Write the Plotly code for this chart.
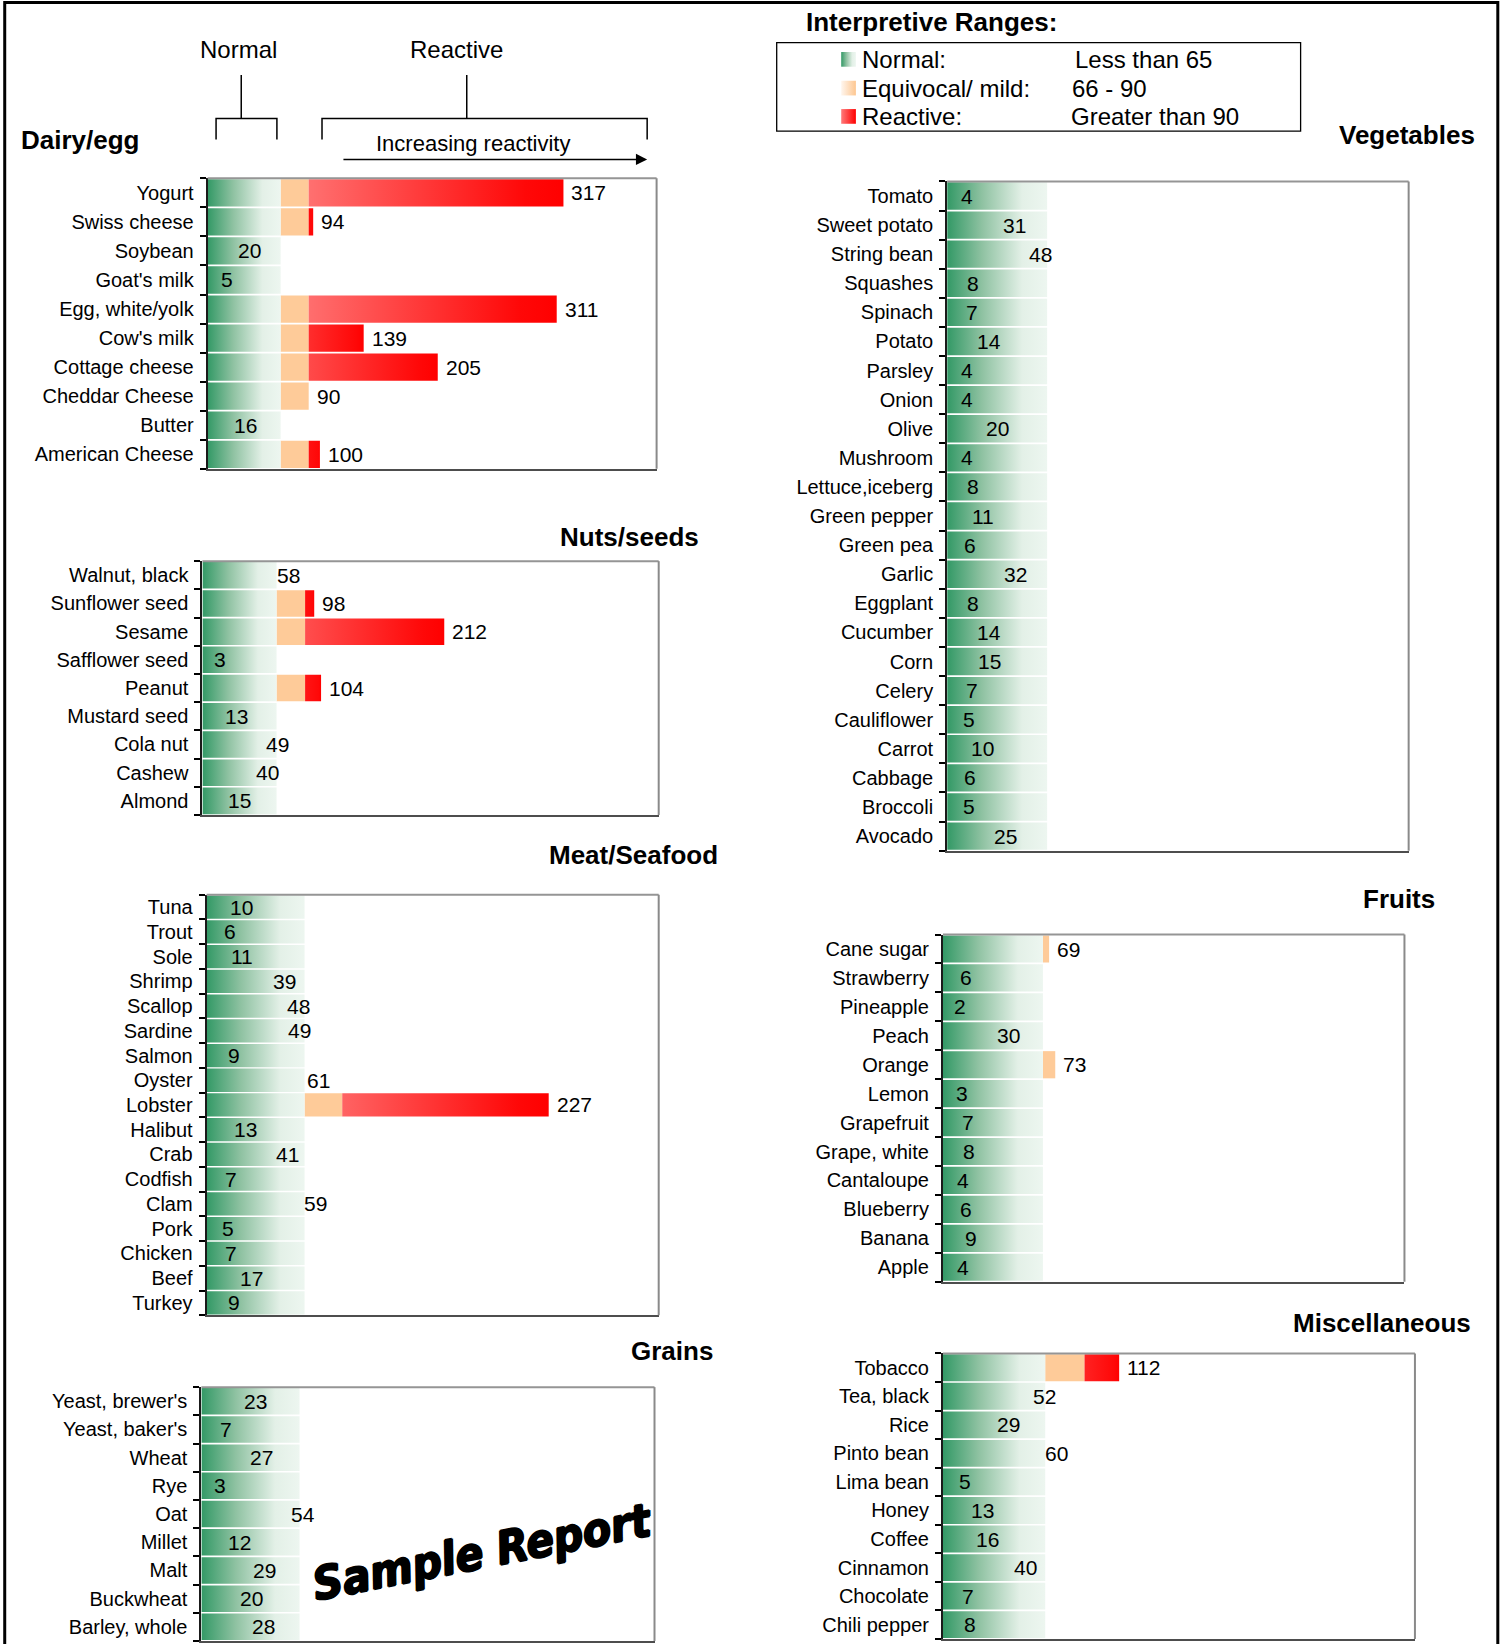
import plotly.graph_objects as go

# ---------------- data ----------------
NORMAL_MAX = 65
MILD_MAX = 90

dairy_foods = ["Yogurt", "Swiss cheese", "Soybean", "Goat's milk", "Egg, white/yolk",
               "Cow's milk", "Cottage cheese", "Cheddar Cheese", "Butter", "American Cheese"]
dairy_values = [317, 94, 20, 5, 311, 139, 205, 90, 16, 100]

nuts_foods = ["Walnut, black", "Sunflower seed", "Sesame", "Safflower seed", "Peanut",
              "Mustard seed", "Cola nut", "Cashew", "Almond"]
nuts_values = [58, 98, 212, 3, 104, 13, 49, 40, 15]

meat_foods = ["Tuna", "Trout", "Sole", "Shrimp", "Scallop", "Sardine", "Salmon", "Oyster",
              "Lobster", "Halibut", "Crab", "Codfish", "Clam", "Pork", "Chicken", "Beef", "Turkey"]
meat_values = [10, 6, 11, 39, 48, 49, 9, 61, 227, 13, 41, 7, 59, 5, 7, 17, 9]

grain_foods = ["Yeast, brewer's", "Yeast, baker's", "Wheat", "Rye", "Oat", "Millet", "Malt",
               "Buckwheat", "Barley, whole"]
grain_values = [23, 7, 27, 3, 54, 12, 29, 20, 28]

veg_foods = ["Tomato", "Sweet potato", "String bean", "Squashes", "Spinach", "Potato", "Parsley",
             "Onion", "Olive", "Mushroom", "Lettuce,iceberg", "Green pepper", "Green pea", "Garlic",
             "Eggplant", "Cucumber", "Corn", "Celery", "Cauliflower", "Carrot", "Cabbage",
             "Broccoli", "Avocado"]
veg_values = [4, 31, 48, 8, 7, 14, 4, 4, 20, 4, 8, 11, 6, 32, 8, 14, 15, 7, 5, 10, 6, 5, 25]

fruit_foods = ["Cane sugar", "Strawberry", "Pineapple", "Peach", "Orange", "Lemon", "Grapefruit",
               "Grape, white", "Cantaloupe", "Blueberry", "Banana", "Apple"]
fruit_values = [69, 6, 2, 30, 73, 3, 7, 8, 4, 6, 9, 4]

misc_foods = ["Tobacco", "Tea, black", "Rice", "Pinto bean", "Lima bean", "Honey", "Coffee",
              "Cinnamon", "Chocolate", "Chili pepper"]
misc_values = [112, 52, 29, 60, 5, 13, 16, 40, 7, 8]

legend_labels = ["Normal:", "Equivocal/ mild:", "Reactive:"]
legend_ranges = ["Less than 65", "66 - 90", "Greater than 90"]

# ---------------- layout (reference units) ----------------
PW, PH = 1432.0, 1567.4
FONT = "Liberation Sans, Arial, Helvetica, sans-serif"

panels = [
    dict(foods=dairy_foods, values=dairy_values, title="Dairy/egg", xmax=400,
         box=(198, 626, 170, 447), tpos=(18, 133), tanchor="left"),
    dict(foods=nuts_foods, values=nuts_values, title="Nuts/seeds", xmax=400,
         box=(193, 628, 535, 777), tpos=(668, 512), tanchor="right"),
    dict(foods=meat_foods, values=meat_values, title="Meat/Seafood", xmax=300,
         box=(197, 628, 853, 1254), tpos=(686, 815), tanchor="right"),
    dict(foods=grain_foods, values=grain_values, title="Grains", xmax=300,
         box=(192, 624, 1322.5, 1564.5), tpos=(682, 1288), tanchor="right"),
    dict(foods=veg_foods, values=veg_values, title="Vegetables", xmax=300,
         box=(903, 1343, 173, 811), tpos=(1408, 129), tanchor="right"),
    dict(foods=fruit_foods, values=fruit_values, title="Fruits", xmax=300,
         box=(899, 1339, 891, 1222), tpos=(1370, 857), tanchor="right"),
    dict(foods=misc_foods, values=misc_values, title="Miscellaneous", xmax=300,
         box=(899, 1349, 1290.4, 1562.6), tpos=(1404, 1261), tanchor="right"),
]

GREEN_SCALE = [[0, "#339966"], [0.35, "#8fc2a2"], [0.75, "#e3f0e7"], [1, "#edf6f0"]]
PEACH = "#fecb99"
HALF = 0.47


def px(x):
    return x / PW


def py(y):
    return 1 - y / PH


fig = go.Figure()
layout = dict(width=1502, height=1644, margin=dict(l=0, r=0, t=0, b=0),
              paper_bgcolor="white", plot_bgcolor="rgba(0,0,0,0)", showlegend=False,
              font=dict(family=FONT, color="black"))
annotations = []
shapes = []

for i, p in enumerate(panels, start=1):
    sx = "" if i == 1 else str(i)
    xr, yr = "x" + sx, "y" + sx
    foods, vals = p["foods"], p["values"]
    n = len(foods)
    x0, x1, y0, y1 = p["box"]
    pxper = (x1 - x0) / p["xmax"]

    # normal band with gradient
    gx, gy = [], []
    for k in range(n):
        gx += [0, NORMAL_MAX, NORMAL_MAX, 0, 0, None]
        gy += [k - HALF, k - HALF, k + HALF, k + HALF, k - HALF, None]
    fig.add_trace(go.Scatter(x=gx, y=gy, mode="lines", fill="toself", line=dict(width=0),
                             fillgradient=dict(type="horizontal", colorscale=GREEN_SCALE,
                                               start=0, stop=NORMAL_MAX),
                             hoverinfo="skip", xaxis=xr, yaxis=yr))
    # equivocal segments
    my = [k for k, v in enumerate(vals) if v > NORMAL_MAX]
    mx = [min(vals[k], MILD_MAX) - NORMAL_MAX for k in my]
    if my:
        fig.add_trace(go.Bar(y=my, x=mx, base=NORMAL_MAX, orientation="h", width=2 * HALF,
                             marker=dict(color=PEACH, line=dict(width=0)),
                             hoverinfo="skip", xaxis=xr, yaxis=yr))
    # reactive segments
    for k, v in enumerate(vals):
        if v > MILD_MAX:
            frac = min(1.0, (v - MILD_MAX) * pxper / 243.0) ** 0.6
            g = int(round(112 * frac))
            fig.add_trace(go.Scatter(
                x=[MILD_MAX, v, v, MILD_MAX, MILD_MAX],
                y=[k - HALF, k - HALF, k + HALF, k + HALF, k - HALF],
                mode="lines", fill="toself", line=dict(width=0),
                fillgradient=dict(type="horizontal",
                                  colorscale=[[0, f"rgb(255,{g},{g})"], [0.85, "#ff0808"], [1, "#ff0000"]],
                                  start=MILD_MAX, stop=v),
                hoverinfo="skip", xaxis=xr, yaxis=yr))
    # value labels
    for k, v in enumerate(vals):
        annotations.append(dict(x=v, y=k, xref=xr, yref=yr, text=str(v), showarrow=False,
                                xanchor="left", yanchor="middle", xshift=6,
                                font=dict(size=21, family=FONT, color="black")))
    layout["xaxis" + sx] = dict(domain=[px(x0), px(x1)], range=[0, p["xmax"]], anchor=yr,
                                showticklabels=False, ticks="", showgrid=False, zeroline=False,
                                showline=True, linecolor="#4d4d4d", linewidth=2, fixedrange=True)
    layout["yaxis" + sx] = dict(domain=[py(y1), py(y0)], range=[n - 0.5, -0.5], anchor=xr,
                                tickmode="array", tickvals=list(range(n)), ticktext=foods,
                                ticks="", ticklabelstandoff=8,
                                tickfont=dict(size=20, family=FONT, color="black"),
                                minor=dict(tickmode="array", tickvals=[k - 0.5 for k in range(n + 1)],
                                           ticks="outside", ticklen=6, tickcolor="black", tickwidth=1.5),
                                showline=True, linecolor="#1a1a1a", linewidth=2,
                                showgrid=False, zeroline=False, fixedrange=True)
    # top and right frame lines
    shapes.append(dict(type="line", xref=xr + " domain", yref=yr + " domain", x0=0, x1=1, y0=1, y1=1,
                       line=dict(color="#959595", width=2), layer="above"))
    shapes.append(dict(type="line", xref=xr + " domain", yref=yr + " domain", x0=1, x1=1, y0=0, y1=1,
                       line=dict(color="#8a8a8a", width=2), layer="above"))
    # panel title
    tx, ty = p["tpos"]
    annotations.append(dict(x=tx, y=ty, xref="x8", yref="y8", text="<b>%s</b>" % p["title"],
                            showarrow=False, xanchor=p["tanchor"], yanchor="middle",
                            font=dict(size=26, family=FONT, color="black")))

# overlay axis in reference units for decorations
layout["xaxis8"] = dict(domain=[0, 1], range=[0, PW], visible=False, fixedrange=True, anchor="y8")
layout["yaxis8"] = dict(domain=[0, 1], range=[PH, 0], visible=False, fixedrange=True, anchor="x8")

# legend icons
icon_scales = [GREEN_SCALE,
               [[0, "#fff6ee"], [1, "#fdc690"]],
               [[0, "#ff7a7a"], [1, "#ff0000"]]]
icon_rows = [56.6, 84, 111]
for sc, yc in zip(icon_scales, icon_rows):
    fig.add_trace(go.Scatter(x=[802, 816, 816, 802, 802], y=[yc - 7, yc - 7, yc + 7, yc + 7, yc - 7],
                             mode="lines", fill="toself", line=dict(width=0),
                             fillgradient=dict(type="horizontal", colorscale=sc, start=802, stop=816),
                             hoverinfo="skip", xaxis="x8", yaxis="y8"))
for lab, rng, yc, rx in zip(legend_labels, legend_ranges, icon_rows, [1023, 1020, 1019]):
    annotations.append(dict(x=819.5, y=yc, xref="x8", yref="y8", text=lab, showarrow=False,
                            xanchor="left", yanchor="middle", font=dict(size=24, family=FONT)))
    annotations.append(dict(x=rx, y=yc, xref="x8", yref="y8", text=rng, showarrow=False,
                            xanchor="left", yanchor="middle", font=dict(size=24, family=FONT)))
annotations.append(dict(x=766.5, y=20.7, xref="x8", yref="y8", text="<b>Interpretive Ranges:</b>",
                        showarrow=False, xanchor="left", yanchor="middle", font=dict(size=26, family=FONT)))
shapes.append(dict(type="rect", xref="x8", yref="y8", x0=740.5, x1=1240, y0=40.7, y1=125,
                   line=dict(color="black", width=1.3)))

# header: Normal / Reactive brackets
annotations.append(dict(x=227, y=47, xref="x8", yref="y8", text="Normal", showarrow=False,
                        xanchor="center", yanchor="middle", font=dict(size=24, family=FONT)))
annotations.append(dict(x=435, y=47, xref="x8", yref="y8", text="Reactive", showarrow=False,
                        xanchor="center", yanchor="middle", font=dict(size=24, family=FONT)))
for path in ["M 206 133 L 206 113 L 264 113 L 264 133", "M 230 71.5 L 230 113",
             "M 307 133 L 307 113 L 617 113 L 617 133", "M 445 71.5 L 445 113"]:
    shapes.append(dict(type="path", xref="x8", yref="y8", path=path,
                       line=dict(color="black", width=1.5)))
annotations.append(dict(x=451, y=137, xref="x8", yref="y8", text="Increasing reactivity",
                        showarrow=False, xanchor="center", yanchor="middle",
                        font=dict(size=22, family=FONT)))
annotations.append(dict(x=617, y=152, ax=326, ay=152, xref="x8", yref="y8", axref="x8", ayref="y8",
                        text="", showarrow=True, arrowhead=2, arrowsize=1.4, arrowwidth=1.6,
                        arrowcolor="black"))

# watermark
annotations.append(dict(x=460, y=1480, xref="x8", yref="y8", text="Sample Report", showarrow=False,
                        textangle=-11, xanchor="center", yanchor="middle",
                        font=dict(size=46, family="DejaVu Sans Condensed, DejaVu Sans, sans-serif",
                                  weight="bold", style="italic", color="black",
                                  shadow="1px 0 0 black, -1px 0 0 black, 0 1px 0 black, 0 -1px 0 black")))

# outer page border
shapes.append(dict(type="rect", xref="paper", yref="paper", x0=px(4.5), x1=px(1428), y0=-0.05, y1=py(2.5),
                   line=dict(color="black", width=3)))

layout["annotations"] = annotations
layout["shapes"] = shapes
fig.update_layout(**layout)
fig.write_html("out.html", config={"displayModeBar": False},
               post_script="document.body.style.margin='0px';")
